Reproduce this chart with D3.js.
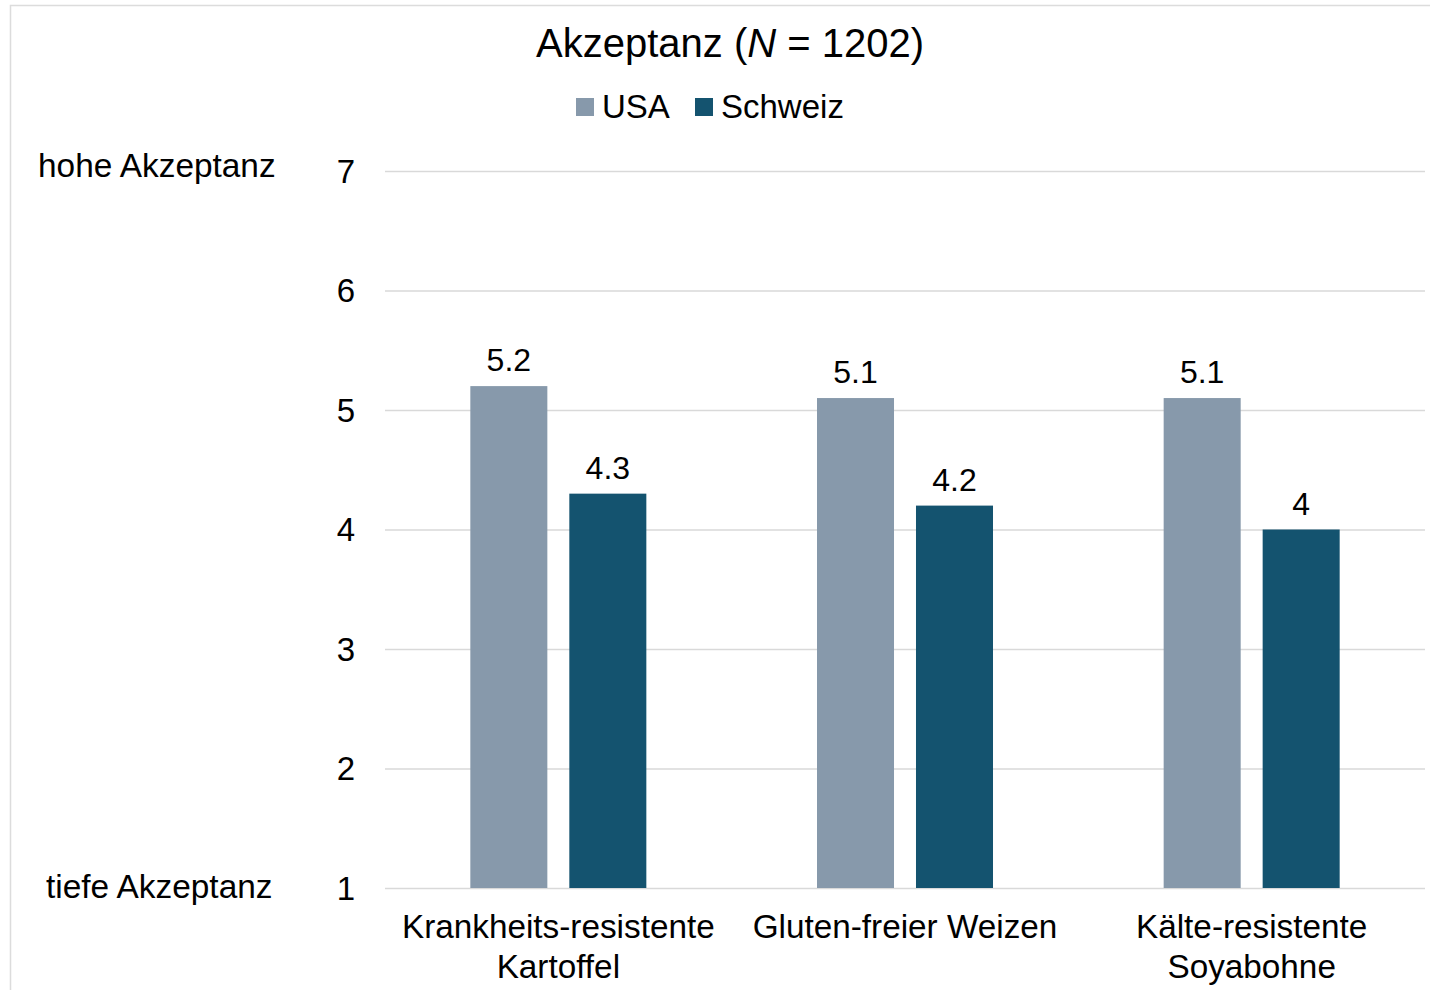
<!DOCTYPE html>
<html>
<head>
<meta charset="utf-8">
<script src="https://cdn.jsdelivr.net/npm/d3@7"></script>
<style>
  html, body { margin: 0; padding: 0; background: #fff; }
  svg { display: block; }
  text { font-family: "Liberation Sans", Arial, sans-serif; fill: #000; }
</style>
</head>
<body>
<svg id="chart" width="1430" height="990"></svg>
<script>
// ---- data ----
const categories = [["Krankheits-resistente", "Kartoffel"], ["Gluten-freier Weizen"], ["Kälte-resistente", "Soyabohne"]];
const categoryKeys = ["Kartoffel", "Weizen", "Soyabohne"];
const seriesNames = ["USA", "Schweiz"];
const usaValues = [5.2, 5.1, 5.1];
const schweizValues = [4.3, 4.2, 4.0];
const valueLabels = [["5.2", "4.3"], ["5.1", "4.2"], ["5.1", "4"]];
const yTicks = [1, 2, 3, 4, 5, 6, 7];
const colors = ["#8799AB", "#14536F"];

const svg = d3.select("#chart");

// outer frame
svg.append("rect").attr("x", 10.5).attr("y", 5.5).attr("width", 1440).attr("height", 1000)
  .attr("fill", "none").attr("stroke", "#dcdcdc").attr("stroke-width", 1.5);

const plotLeft = 385, plotRight = 1425, plotTop = 171, plotBottom = 888;

const y = d3.scaleLinear().domain([1, 7]).range([plotBottom, plotTop]);
const x0 = d3.scaleBand().domain(categoryKeys).range([plotLeft, plotRight]).padding(0);
const x1 = d3.scaleBand().domain(seriesNames).range([0, x0.bandwidth()])
  .paddingInner(0.222).paddingOuter(0.862);

// gridlines
const yAxis = d3.axisLeft(y).tickValues(yTicks).tickSize(-(plotRight - plotLeft)).tickFormat(d3.format("d"));
const gAxis = svg.append("g").attr("transform", `translate(${plotLeft},0)`).call(yAxis);
gAxis.select(".domain").remove();
gAxis.selectAll(".tick line").attr("stroke", "#d9d9d9").attr("stroke-width", 1.3);
gAxis.selectAll(".tick text")
  .attr("x", -30).attr("dy", null).attr("y", 11)
  .attr("text-anchor", "end")
  .style("font-size", "33px").style("font-family", "'Liberation Sans', Arial, sans-serif").attr("fill", "#000");

// bars
const rows = categoryKeys.map((k, i) => ({ key: k, values: [usaValues[i], schweizValues[i]], labels: valueLabels[i] }));
const groups = svg.append("g").selectAll("g").data(rows).join("g")
  .attr("transform", d => `translate(${x0(d.key)},0)`);
groups.selectAll("rect").data(d => d.values.map((v, j) => ({ s: seriesNames[j], v, j })))
  .join("rect")
  .attr("x", d => x1(d.s)).attr("width", x1.bandwidth())
  .attr("y", d => y(d.v)).attr("height", d => y(1) - y(d.v))
  .attr("fill", d => colors[d.j]);
groups.selectAll("text.val").data(d => d.values.map((v, j) => ({ s: seriesNames[j], v, j, lab: d.labels[j] })))
  .join("text").attr("class", "val")
  .attr("x", d => x1(d.s) + x1.bandwidth() / 2)
  .attr("y", d => y(d.v) - 15)
  .attr("text-anchor", "middle").style("font-size", "32px")
  .text(d => d.lab);

// category labels
categoryKeys.forEach((k, i) => {
  const t = svg.append("text").attr("x", x0(k) + x0.bandwidth() / 2).attr("y", 938)
    .attr("text-anchor", "middle").style("font-size", "33.3px");
  categories[i].forEach((line, li) => {
    t.append("tspan").attr("x", x0(k) + x0.bandwidth() / 2).attr("dy", li === 0 ? 0 : 40).text(line);
  });
});

// axis side labels
svg.append("text").attr("x", 38).attr("y", 177).style("font-size", "33.4px").text("hohe Akzeptanz");
svg.append("text").attr("x", 46).attr("y", 898).style("font-size", "33.4px").text("tiefe Akzeptanz");

// title
const title = svg.append("text").attr("x", 730).attr("y", 57).attr("text-anchor", "middle").style("font-size", "40px");
title.append("tspan").text("Akzeptanz (");
title.append("tspan").style("font-style", "italic").text("N");
title.append("tspan").text(" = 1202)");

// legend
const legendItems = [{ name: "USA", sx: 576, tx: 602 }, { name: "Schweiz", sx: 695, tx: 721 }];
legendItems.forEach((d, i) => {
  svg.append("rect").attr("x", d.sx).attr("y", 98).attr("width", 18).attr("height", 18).attr("fill", colors[i]);
  svg.append("text").attr("x", d.tx).attr("y", 118).style("font-size", "33px").text(d.name);
});
</script>
</body>
</html>
